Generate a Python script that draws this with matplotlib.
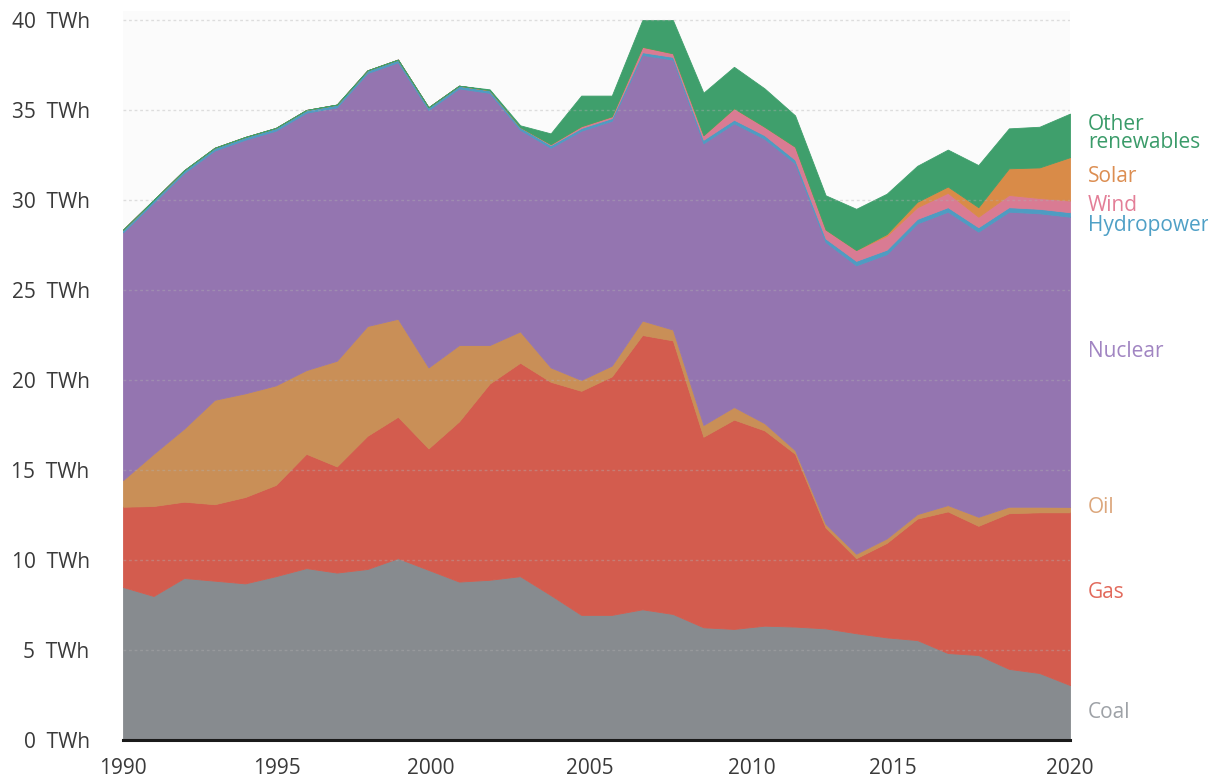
import numpy as np
import matplotlib
matplotlib.use("Agg")
import matplotlib.pyplot as plt
import matplotlib.transforms as mtransforms

plt.rcParams['font.family'] = ['Open Sans', 'DejaVu Sans']

# ---- data (TWh), 32 annual points ----
years = list(range(1990, 2022))
coal = [8.5, 8.0, 9.0, 8.85, 8.7, 9.1, 9.55, 9.3, 9.5, 10.1, 9.45, 8.8, 8.9, 9.1, 8.05, 6.95,
        6.95, 7.26, 7.0, 6.26, 6.17, 6.35, 6.3, 6.2, 5.93, 5.7, 5.55, 4.83, 4.72, 3.95, 3.72, 3.05]
gas = [4.46, 5.0, 4.24, 4.25, 4.8, 5.07, 6.35, 5.9, 7.4, 7.86, 6.75, 8.9, 10.9, 11.86, 11.85, 12.45,
       13.25, 15.24, 15.2, 10.59, 11.63, 10.85, 9.6, 5.6, 4.17, 5.25, 6.75, 7.87, 7.18, 8.65, 8.93, 9.6]
oil = [1.48, 2.9, 4.06, 5.8, 5.76, 5.53, 4.65, 5.87, 6.1, 5.44, 4.5, 4.24, 2.14, 1.74, 0.8, 0.6,
       0.6, 0.8, 0.6, 0.65, 0.7, 0.4, 0.2, 0.2, 0.25, 0.25, 0.25, 0.35, 0.5, 0.36, 0.31, 0.3]
nuclear = [13.76, 13.95, 14.2, 13.85, 14.09, 14.15, 14.3, 14.08, 14.05, 14.25, 14.3, 14.26, 14.01,
           11.2, 12.2, 13.85, 13.6, 14.76, 15.0, 15.65, 15.76, 15.8, 15.94, 15.66, 16.02, 15.79,
           16.15, 16.3, 15.84, 16.39, 16.3, 16.12]
hydro = [0.15] * 19 + [0.2] * 5 + [0.25] * 8
wind = [0] * 14 + [0.05, 0.1, 0.1, 0.3, 0.2, 0.25, 0.64, 0.47, 0.72, 0.5, 0.6, 0.77, 0.65,
                   0.8, 0.58, 0.68, 0.6, 0.65]
solar = [0] * 25 + [0.1, 0.3, 0.35, 0.53, 1.48, 1.7, 2.41]
other = [0] * 12 + [0.05, 0.1, 0.6, 1.7, 1.15, 1.49, 1.85, 2.36, 2.3, 2.13, 1.74, 1.9, 2.29, 2.24,
                    2.0, 2.05, 2.34, 2.22, 2.26, 2.42]

series_names = ["Coal", "Gas", "Oil", "Nuclear", "Hydropower", "Wind", "Solar", "Other\nrenewables"]
series = [coal, gas, oil, nuclear, hydro, wind, solar, other]

fill_colors = ["#878b8f", "#d35c4e", "#c98f57", "#9475b0", "#4e9cc2", "#d97b93", "#d98b48", "#3f9f6c"]
label_colors = ["#9ea2a7", "#e26a5c", "#dca77c", "#a185c2", "#4fa0c6", "#e37e97", "#dc8e52", "#3a9b69"]
label_y = [1.55, 8.2, 12.9, 21.6, 28.6, 29.7, 31.3, 33.7]

tick_years = ["1990", "1995", "2000", "2005", "2010", "2015", "2020"]
tick_pos = [1990, 1995.04, 2000.08, 2005.29, 2010.6, 2015.2, 2021.0]
y_ticks = [0, 5, 10, 15, 20, 25, 30, 35, 40]

# ---- figure ----
fig = plt.figure(figsize=(12.08, 7.78), dpi=100)
ax = fig.add_axes([123 / 1208, 38 / 778, (1070 - 123) / 1208, 729 / 778])
ax.set_facecolor("#fbfbfb")

x = np.array(years, dtype=float)
ax.stackplot(x, *series, colors=fill_colors, linewidth=0.6,
             edgecolor="face", zorder=2)

ax.set_xlim(1990, 2021)
ax.set_ylim(0, 40.5)

# gridlines (dotted) drawn over areas
for v in y_ticks[1:]:
    ax.axhline(v, color="#b0b0b0", lw=1.0, ls=(0, (2, 2)), alpha=0.4, zorder=3)

for s in ["top", "right", "left"]:
    ax.spines[s].set_visible(False)
ax.spines["bottom"].set_color("#1a1a1a")
ax.spines["bottom"].set_linewidth(2.2)
ax.spines["bottom"].set_zorder(5)

ax.set_yticks(y_ticks)
ax.set_yticklabels([f"{v}  TWh" for v in y_ticks])
ax.set_xticks(tick_pos)
ax.set_xticklabels(tick_years)
ax.tick_params(axis="both", length=0, labelsize=15, labelcolor="#3a3a3a")
ax.tick_params(axis="y", pad=24)
ax.tick_params(axis="x", pad=13)

trans = mtransforms.blended_transform_factory(ax.transAxes, ax.transData)
for name, c, yv in zip(series_names, label_colors, label_y):
    ax.text(1.0 + 18 / 947, yv, name, transform=trans, color=c, fontsize=15,
            va="center", ha="left", linespacing=0.78, clip_on=False)

fig.savefig("out.png", dpi=100, facecolor="white")
